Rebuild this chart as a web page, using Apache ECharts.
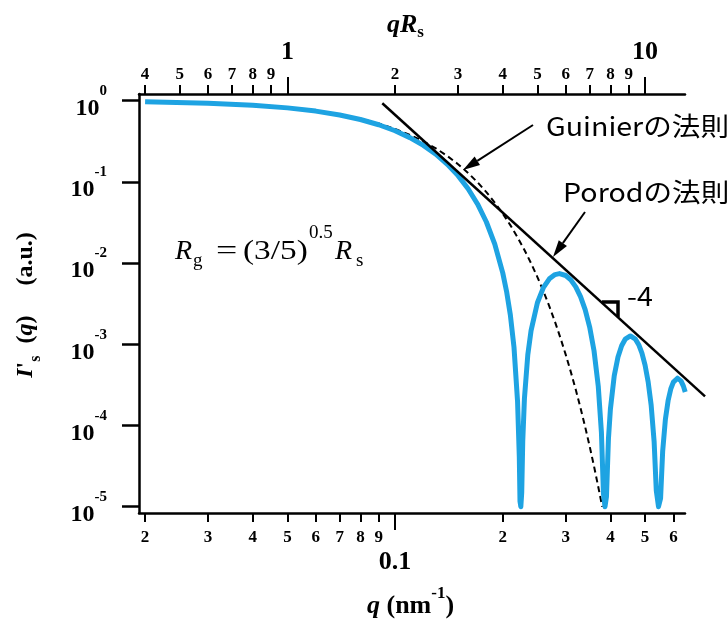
<!DOCTYPE html>
<html>
<head>
<meta charset="utf-8">
<script src="https://cdn.jsdelivr.net/npm/echarts@6/dist/echarts.min.js"></script>
<style>
  html, body { margin: 0; padding: 0; background: #fff; }
  #chart { width: 727px; height: 621px; }
</style>
</head>
<body>
<div id="chart"></div>
<script>
// Scattering intensity of a uniform sphere (Rs = 20 nm), log-log.
const sphereQ = [0.02, 0.03, 0.04, 0.05, 0.06, 0.07, 0.08, 0.09, 0.10, 0.11, 0.12, 0.13, 0.14, 0.15,
  0.16, 0.17, 0.18, 0.19, 0.20, 0.205, 0.21, 0.215, 0.22, 0.2225, 0.2235, 0.2247, 0.226, 0.2275,
  0.23, 0.235, 0.24, 0.25, 0.26, 0.27, 0.28, 0.2882, 0.30, 0.31, 0.32, 0.33, 0.34, 0.35, 0.36,
  0.37, 0.3775, 0.3825, 0.3863, 0.39, 0.395, 0.40, 0.41, 0.42, 0.43, 0.44, 0.4548, 0.47, 0.48,
  0.49, 0.50, 0.51, 0.52, 0.53, 0.5375, 0.5452, 0.5525, 0.56, 0.57, 0.58, 0.59, 0.60, 0.616,
  0.63, 0.64, 0.6475];
const sphereI = [0.9684, 0.9302, 0.8788, 0.8163, 0.7451, 0.6679, 0.5873, 0.5060, 0.4265, 0.3511,
  0.2816, 0.2193, 0.1651, 0.1195, 0.08244, 0.05354, 0.03209, 0.01713, 0.007583, 0.004485,
  0.002312, 0.0009278, 0.0001991, 0.00004117, 0.00001162, 0.00001, 0.00001494, 0.00006401,
  0.0002169, 0.0007404, 0.001476, 0.003255, 0.005017, 0.006403, 0.007221, 0.007425, 0.007038,
  0.006213, 0.005099, 0.003868, 0.002672, 0.001633, 0.0008309, 0.0003018, 0.00008254,
  0.00001444, 0.00001, 0.00001334, 0.00006872, 0.0001592, 0.0004101, 0.0006972, 0.0009606,
  0.001156, 0.001268, 0.001158, 0.0009899, 0.0007782, 0.0005541, 0.0003465, 0.0001784,
  0.00006361, 0.00001573, 0.00001, 0.00001265, 0.00004811, 0.0001200, 0.0002030, 0.0002818,
  0.0003427, 0.0003826, 0.0003548, 0.0003056, 0.0002583];

// Guinier approximation (dashed)
const guinierQ = [0.05, 0.06, 0.07, 0.08, 0.09, 0.10, 0.11, 0.12, 0.13, 0.14, 0.15, 0.16, 0.17,
  0.18, 0.19, 0.20, 0.21, 0.22, 0.23, 0.24, 0.25, 0.26, 0.27, 0.28, 0.29, 0.30, 0.31, 0.32, 0.33,
  0.34, 0.35, 0.36, 0.37, 0.3795];
const guinierI = [0.8187, 0.7498, 0.6757, 0.5993, 0.5231, 0.4493, 0.3798, 0.3160, 0.2587, 0.2085,
  0.1653, 0.1290, 0.09906, 0.07484, 0.05569, 0.04076, 0.02937, 0.02081, 0.01452, 0.00997,
  0.006738, 0.00448, 0.002932, 0.00189, 0.001197, 0.0007466, 0.000458, 0.0002768, 0.0001645,
  0.0000963, 0.00005545, 0.0000314, 0.0000175, 0.00001];

// Porod law, slope -4
const porodQ = [0.0921, 0.7356];
const porodI = [0.93, 0.000229];

// Axis ranges and ticks
const SPHERE_RADIUS = 20;          // nm, links the top qRs axis to the bottom q axis
const qRange = [0.01923, 0.6466];
const iRange = [8.37e-6, 1.21];

const qMinorTicks = [0.02, 0.03, 0.04, 0.05, 0.06, 0.07, 0.08, 0.09, 0.2, 0.3, 0.4, 0.5, 0.6];
const qMinorText = ['2', '3', '4', '5', '6', '7', '8', '9', '2', '3', '4', '5', '6'];
const qMajorTicks = [0.1];
const qMajorText = ['0.1'];

const qrMinorTicks = [0.4, 0.5, 0.6, 0.7, 0.8, 0.9, 2, 3, 4, 5, 6, 7, 8, 9];
const qrMinorText = ['4', '5', '6', '7', '8', '9', '2', '3', '4', '5', '6', '7', '8', '9'];
const qrMajorTicks = [1, 10];
const qrMajorText = ['1', '10'];

const iTicks = [1, 0.1, 0.01, 0.001, 0.0001, 0.00001];
const iExponents = ['0', '-1', '-2', '-3', '-4', '-5'];

const SERIF = '"Liberation Serif", "Times New Roman", serif';
const SANS = '"Noto Sans CJK JP", "Noto Sans", sans-serif';
const BLUE = '#1ea3e2';

// Plot frame (px) and a wider overlay frame so the Porod line can run past the right end
const FRAME = { left: 139, top: 94, right: 42, bottom: 108 };
const WIDE_RIGHT = 22;
const plotW = 727 - FRAME.left - FRAME.right;
const wideW = 727 - FRAME.left - WIDE_RIGHT;
const wideQMax = qRange[0] * Math.pow(qRange[1] / qRange[0], wideW / plotW);

function pick(vals, texts) {
  return function (v) {
    for (let i = 0; i < vals.length; i++) {
      if (Math.abs(vals[i] - v) <= vals[i] * 1e-6) return texts[i];
    }
    return '';
  };
}

function xAxisDef(opt) {
  return {
    type: 'log',
    logBase: 10,
    gridIndex: 0,
    position: opt.position,
    min: opt.range[0],
    max: opt.range[1],
    offset: 0,
    axisLine: { show: opt.line, onZero: false, lineStyle: { color: '#000', width: 2.5 } },
    axisTick: {
      show: true, inside: false, length: opt.tickLen, customValues: opt.ticks,
      lineStyle: { color: '#000', width: 2 }
    },
    minorTick: { show: false },
    axisLabel: {
      show: true, customValues: opt.ticks, formatter: pick(opt.ticks, opt.texts),
      margin: opt.margin, color: '#000', fontFamily: SERIF, fontWeight: 'bold',
      fontSize: opt.fontSize, hideOverlap: false
    },
    splitLine: { show: false },
    splitArea: { show: false }
  };
}

function hiddenAxis(gridIndex, range) {
  return {
    type: 'log', logBase: 10, gridIndex: gridIndex, min: range[0], max: range[1],
    show: false, axisLine: { show: false }, axisTick: { show: false },
    axisLabel: { show: false }, splitLine: { show: false }
  };
}

function toPairs(xs, ys) { return xs.map((x, i) => [x, ys[i]]); }

// Arrow: shaft plus filled head, tip at (x2, y2)
function arrow(x1, y1, x2, y2) {
  const dx = x2 - x1, dy = y2 - y1, len = Math.hypot(dx, dy);
  const ux = dx / len, uy = dy / len;
  const hl = 17, hw = 5;
  const bx = x2 - ux * hl, by = y2 - uy * hl;
  const nx = -uy * hw, ny = ux * hw;
  return [
    { type: 'line', silent: true, shape: { x1: x1, y1: y1, x2: bx, y2: by },
      style: { stroke: '#000', lineWidth: 2 } },
    { type: 'polygon', silent: true,
      shape: { points: [[x2, y2], [bx + nx, by + ny], [bx - nx, by - ny]] },
      style: { fill: '#000' } }
  ];
}

function label(x, y, text, size, extra) {
  const st = Object.assign({
    text: text, fill: '#000', fontSize: size, fontFamily: SERIF,
    align: 'left', verticalAlign: 'middle', textAlign: 'left', textVerticalAlign: 'middle'
  }, (extra && extra.style) || {});
  return Object.assign({ type: 'text', silent: true, x: x, y: y, style: st }, (extra && extra.el) || {});
}

const chart = echarts.init(document.getElementById('chart'), null, { renderer: 'canvas' });

const elements = [].concat(
  // axis titles
  [
    {
      type: 'text', silent: true, x: 387, y: 12,
      style: {
        text: '{q|q}{R|R}{s|s}', align: 'left', verticalAlign: 'top',
        textAlign: 'left', textVerticalAlign: 'top',
        rich: {
          q: { fontSize: 26, fontFamily: SERIF, fontWeight: 'bold', fontStyle: 'italic', fill: '#000', verticalAlign: 'top' },
          R: { fontSize: 26, fontFamily: SERIF, fontWeight: 'bold', fontStyle: 'italic', fill: '#000', verticalAlign: 'top' },
          s: { fontSize: 17, fontFamily: SERIF, fontWeight: 'bold', fill: '#000', verticalAlign: 'top', padding: [12, 0, 0, 0] }
        }
      }
    },
    {
      type: 'text', silent: true, x: 367, y: 581,
      style: {
        text: '{q|q}{n| (nm}{s|-1}{n|)}', align: 'left', verticalAlign: 'top',
        textAlign: 'left', textVerticalAlign: 'top',
        rich: {
          q: { fontSize: 26, fontFamily: SERIF, fontWeight: 'bold', fontStyle: 'italic', fill: '#000', verticalAlign: 'top', padding: [12, 0, 0, 0] },
          n: { fontSize: 26, fontFamily: SERIF, fontWeight: 'bold', fill: '#000', verticalAlign: 'top', padding: [12, 0, 0, 0] },
          s: { fontSize: 17, fontFamily: SERIF, fontWeight: 'bold', fill: '#000', verticalAlign: 'top', padding: [4, 0, 0, 0] }
        }
      }
    },
    {
      type: 'text', silent: true, x: 29, y: 305, rotation: Math.PI / 2,
      style: {
        text: "{I|I}{n|'}{s|s}{n|  (}{q|q}{n|)     (a.u.)}", align: 'center', verticalAlign: 'middle',
        textAlign: 'center', textVerticalAlign: 'middle',
        rich: {
          I: { fontSize: 24, fontFamily: SERIF, fontWeight: 'bold', fontStyle: 'italic', fill: '#000', verticalAlign: 'top' },
          q: { fontSize: 24, fontFamily: SERIF, fontWeight: 'bold', fontStyle: 'italic', fill: '#000', verticalAlign: 'top' },
          n: { fontSize: 24, fontFamily: SERIF, fontWeight: 'bold', fill: '#000', verticalAlign: 'top' },
          s: { fontSize: 16, fontFamily: SERIF, fontWeight: 'bold', fill: '#000', verticalAlign: 'top', padding: [14, 0, 0, 0] }
        }
      }
    }
  ],
  // Rg relation
  [
    label(175, 252, 'R', 28, { style: { fontStyle: 'italic' } }),
    label(193, 261, 'g', 19),
    label(216, 252, '=', 28, { el: { scaleX: 1.35 } }),
    label(243, 252, '(3/5)', 28, { el: { scaleX: 1.19 } }),
    label(309, 233, '0.5', 19),
    label(335, 252, 'R', 28, { style: { fontStyle: 'italic' } }),
    label(356, 261, 's', 19)
  ],
  // annotations
  [
    label(546, 126, 'Guinierの法則', 26, { style: { fontFamily: SANS }, el: { scaleX: 1.1 } }),
    label(563, 192, 'Porodの法則', 26, { style: { fontFamily: SANS }, el: { scaleX: 1.1 } }),
    label(627, 296, '-4', 26, { style: { fontFamily: SANS }, el: { scaleX: 1.1 } }),
    { type: 'polyline', silent: true, shape: { points: [[602, 302], [618, 302], [618, 317]] },
      style: { stroke: '#000', lineWidth: 3.5, fill: null } }
  ],
  arrow(533, 125, 463, 170),
  arrow(585, 212, 553, 257)
);

chart.setOption({
  animation: false,
  backgroundColor: '#fff',
  grid: [
    Object.assign({ containLabel: false, outerBoundsMode: 'none' }, FRAME),
    { left: FRAME.left, top: FRAME.top, right: WIDE_RIGHT, bottom: FRAME.bottom, containLabel: false, outerBoundsMode: 'none' }
  ],
  xAxis: [
    xAxisDef({ position: 'bottom', range: qRange, line: true, tickLen: 9, ticks: qMinorTicks, texts: qMinorText, margin: 16, fontSize: 17 }),
    xAxisDef({ position: 'bottom', range: qRange, line: false, tickLen: 17, ticks: qMajorTicks, texts: qMajorText, margin: 36, fontSize: 26 }),
    xAxisDef({ position: 'top', range: [qRange[0] * SPHERE_RADIUS, qRange[1] * SPHERE_RADIUS], line: true, tickLen: 9, ticks: qrMinorTicks, texts: qrMinorText, margin: 11, fontSize: 17 }),
    xAxisDef({ position: 'top', range: [qRange[0] * SPHERE_RADIUS, qRange[1] * SPHERE_RADIUS], line: false, tickLen: 17, ticks: qrMajorTicks, texts: qrMajorText, margin: 29, fontSize: 26 }),
    hiddenAxis(1, [qRange[0], wideQMax])
  ],
  yAxis: [{
    type: 'log',
    logBase: 10,
    gridIndex: 0,
    position: 'left',
    min: iRange[0],
    max: iRange[1],
    axisLine: { show: true, onZero: false, lineStyle: { color: '#000', width: 2.5 } },
    axisTick: { show: true, inside: false, length: 17, customValues: iTicks, lineStyle: { color: '#000', width: 2.5 } },
    minorTick: { show: false },
    axisLabel: {
      show: true, customValues: iTicks, margin: 32, hideOverlap: false,
      formatter: function (v) { return '{b|10}{s|' + pick(iTicks, iExponents)(v) + '}'; },
      rich: {
        b: { fontSize: 24, fontFamily: SERIF, fontWeight: 'bold', color: '#000', verticalAlign: 'top', padding: [16, 0, 0, 0] },
        s: { fontSize: 15, fontFamily: SERIF, fontWeight: 'bold', color: '#000', verticalAlign: 'top', padding: [3, 0, 0, 0] }
      }
    },
    splitLine: { show: false }
  },
  hiddenAxis(1, iRange)],
  series: [
    {
      name: 'Guinier', type: 'line', xAxisIndex: 0, yAxisIndex: 0, z: 2,
      data: toPairs(guinierQ, guinierI), symbol: 'none', showSymbol: false, silent: true,
      lineStyle: { color: '#000', width: 2, type: [6, 4] }
    },
    {
      name: 'sphere', type: 'line', xAxisIndex: 0, yAxisIndex: 0, z: 3,
      data: toPairs(sphereQ, sphereI), symbol: 'none', showSymbol: false, silent: true,
      lineStyle: { color: BLUE, width: 5, join: 'round', cap: 'butt' }
    },
    {
      name: 'Porod', type: 'line', xAxisIndex: 4, yAxisIndex: 1, z: 4,
      data: toPairs(porodQ, porodI), symbol: 'none', showSymbol: false, silent: true,
      lineStyle: { color: '#000', width: 2.5 }
    }
  ],
  graphic: { elements: elements }
});
</script>
</body>
</html>
